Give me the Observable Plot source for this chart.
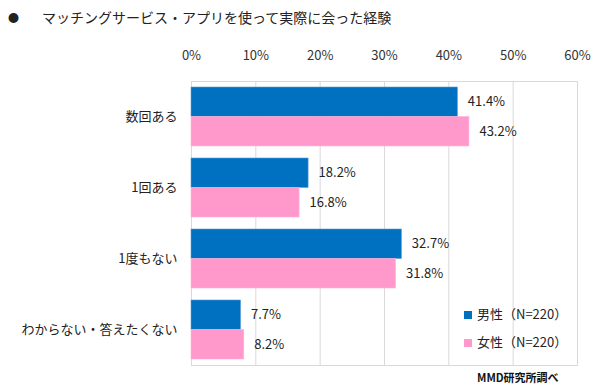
<!DOCTYPE html>
<html>
<head>
<meta charset="utf-8">
<script src="https://cdn.jsdelivr.net/npm/d3@7"></script>
<script src="https://cdn.jsdelivr.net/npm/@observablehq/plot@0.6"></script>
<style>
  html, body { margin: 0; padding: 0; background: #fff; }
  #wrap { position: relative; width: 600px; height: 387px; font-family: "Noto Sans CJK JP", "Noto Sans", sans-serif; color: #222; }
  #wrap svg { position: absolute; left: 0; top: 0; }
  .title { position: absolute; top: 7px; left: 8px; font-size: 14px; line-height: 20px; white-space: nowrap; }
  .title .dot { display: inline-block; width: 34px; font-size: 11px; vertical-align: 1px; }
  .legend { position: absolute; left: 464px; top: 300px; font-size: 13px; line-height: 28px; }
  .legend .sw { display: inline-block; width: 8px; height: 8px; margin-right: 5px; vertical-align: 0px; }
  .caption { position: absolute; left: 477px; top: 369px; font-size: 11px; font-weight: bold; line-height: 16px; white-space: nowrap; color: #111; }
</style>
</head>
<body>
<div id="wrap"></div>
<script>
const title = "マッチングサービス・アプリを使って実際に会った経験";
const caption = "MMD研究所調べ";
const categories = ["数回ある", "1回ある", "1度もない", "わからない・答えたくない"];
const seriesNames = ["男性（N=220）", "女性（N=220）"];
const male = [41.4, 18.2, 32.7, 7.7];
const female = [43.2, 16.8, 31.8, 8.2];
const xTicks = [0, 10, 20, 30, 40, 50, 60];
const colors = ["#0070C0", "#FF99CC"];

const maleData = categories.map((c, i) => ({cat: c, v: male[i]}));
const femaleData = categories.map((c, i) => ({cat: c, v: female[i]}));

const chart = Plot.plot({
  width: 600,
  height: 387,
  marginTop: 81,
  marginBottom: 22,
  marginLeft: 191,
  marginRight: 23,
  style: {fontFamily: '"Noto Sans CJK JP", "Noto Sans", sans-serif', fontSize: "13px", color: "#222", background: "transparent"},
  x: {domain: [0, 60]},
  y: {domain: categories, paddingInner: 0.17, paddingOuter: 0.085},
  marks: [
    Plot.gridX(xTicks, {stroke: "#d9d9d9", strokeOpacity: 1}),
    Plot.frame({stroke: "#d9d9d9"}),
    Plot.barX(maleData, {x: "v", y: "cat", fill: colors[0], insetBottom: 29.5, stroke: "#5b9bd5", strokeWidth: 0.6}),
    Plot.barX(femaleData, {x: "v", y: "cat", fill: colors[1], insetTop: 29.5, stroke: "#ffb3d9", strokeWidth: 0.6}),
    Plot.text(maleData, {x: "v", y: "cat", text: d => d.v.toFixed(1) + "%", dx: 10, dy: -14.75, textAnchor: "start", fontSize: 13, fill: "#222"}),
    Plot.text(femaleData, {x: "v", y: "cat", text: d => d.v.toFixed(1) + "%", dx: 10, dy: 14.75, textAnchor: "start", fontSize: 13, fill: "#222"}),
    Plot.axisX(xTicks, {anchor: "top", tickSize: 0, tickPadding: 22, tickFormat: d => d + "%", label: null, fill: "#333"}),
    Plot.axisY({tickSize: 0, tickPadding: 14, label: null, fill: "#222"})
  ]
});

const wrap = document.getElementById("wrap");
wrap.appendChild(chart);

const t = document.createElement("div");
t.className = "title";
t.innerHTML = '<span class="dot">●</span>';
t.appendChild(document.createTextNode(title));
wrap.appendChild(t);

const lg = document.createElement("div");
lg.className = "legend";
seriesNames.forEach((s, i) => {
  const row = document.createElement("div");
  const sw = document.createElement("span");
  sw.className = "sw";
  sw.style.background = colors[i];
  row.appendChild(sw);
  row.appendChild(document.createTextNode(s));
  lg.appendChild(row);
});
wrap.appendChild(lg);

const cap = document.createElement("div");
cap.className = "caption";
cap.textContent = caption;
wrap.appendChild(cap);
</script>
</body>
</html>
